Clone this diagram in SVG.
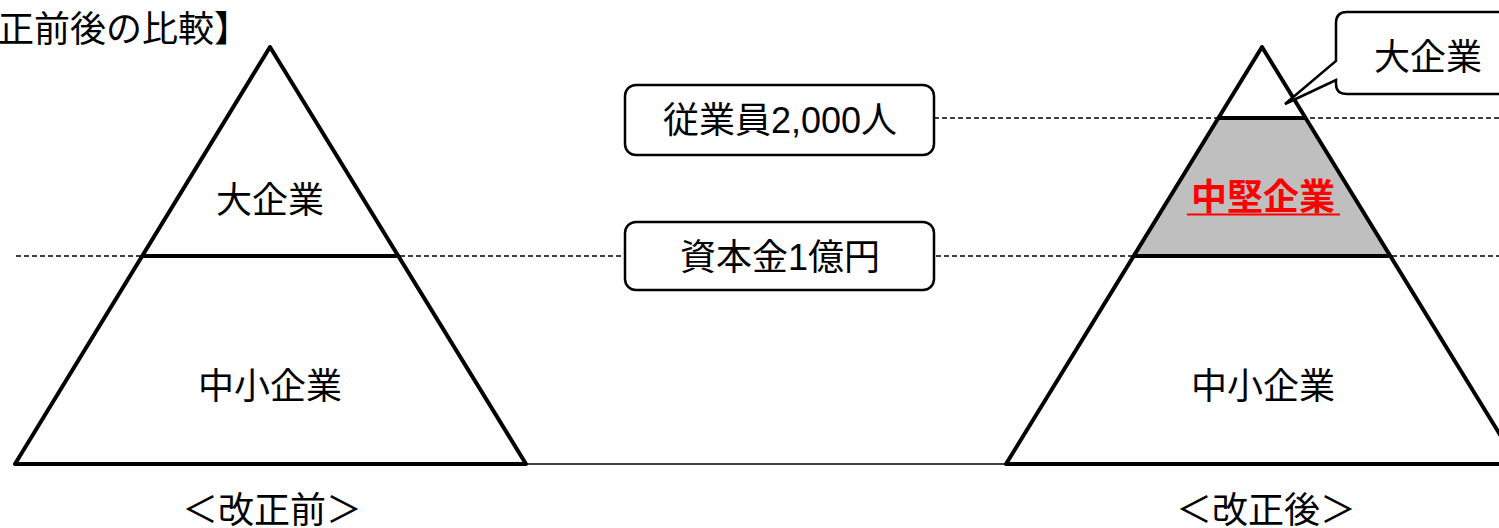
<svg xmlns="http://www.w3.org/2000/svg" width="1499" height="528" viewBox="0 0 1499 528">
<style>
.t{font-family:"Liberation Sans","Noto Sans CJK JP",sans-serif;font-size:36px;fill:#000;text-anchor:middle;dominant-baseline:central}
.tri{stroke:#000;stroke-width:4;stroke-linejoin:round}
.thick{stroke:#000;stroke-width:4;fill:none}
.dash{stroke:#000;stroke-width:1.3;stroke-dasharray:5 3;fill:none}
.box{fill:#fff;stroke:#000;stroke-width:2.5}
</style>
<rect width="1499" height="528" fill="#fff"/>
<text id="title" class="t" x="-74" y="29" style="text-anchor:start">【改正前後の比較】</text>
<g id="connectors">
<line class="dash" x1="16" y1="256" x2="1499" y2="256"/>
<line class="dash" x1="934" y1="118" x2="1499" y2="118"/>
<line x1="526" y1="464" x2="1006" y2="464" stroke="#000" stroke-width="1.5"/>
</g>
<g id="before">
<polygon class="tri" points="270,47 15,464 526,464" fill="none"/>
<line class="thick" x1="142" y1="256" x2="398" y2="256"/>
<text class="t" x="270" y="200">大企業</text>
<text class="t" x="270" y="386">中小企業</text>
<text class="t" x="272" y="510">＜改正前＞</text>
</g>
<g id="after">
<polygon points="1219,118 1305,118 1390,256 1134,256" fill="#bfbfbf"/>
<polygon class="tri" points="1262,47 1006,464 1518,464" fill="none"/>
<line class="thick" x1="1219" y1="118" x2="1305" y2="118"/>
<line class="thick" x1="1134" y1="256" x2="1390" y2="256"/>
<text class="t" x="1263" y="197" style="fill:#ff0000;font-weight:bold">中堅企業</text>
<line x1="1187" y1="214.5" x2="1340" y2="214.5" stroke="#ff0000" stroke-width="2"/>
<text class="t" x="1263" y="386">中小企業</text>
<text class="t" x="1266" y="510">＜改正後＞</text>
</g>
<g id="box-employees">
<rect class="box" x="625" y="85" width="309" height="70" rx="11"/>
<text class="t" x="780" y="120">従業員2,000人</text>
</g>
<g id="box-capital">
<rect class="box" x="625" y="222" width="309" height="68" rx="11"/>
<text class="t" x="780" y="257">資本金1億円</text>
</g>
<g id="callout">
<path class="box" d="M1347,12 H1520 V94 H1347 Q1336,94 1336,84 V80 L1285,104 L1336,61 V23 Q1336,12 1347,12 Z"/>
<text class="t" x="1428" y="57">大企業</text>
</g>
</svg>
